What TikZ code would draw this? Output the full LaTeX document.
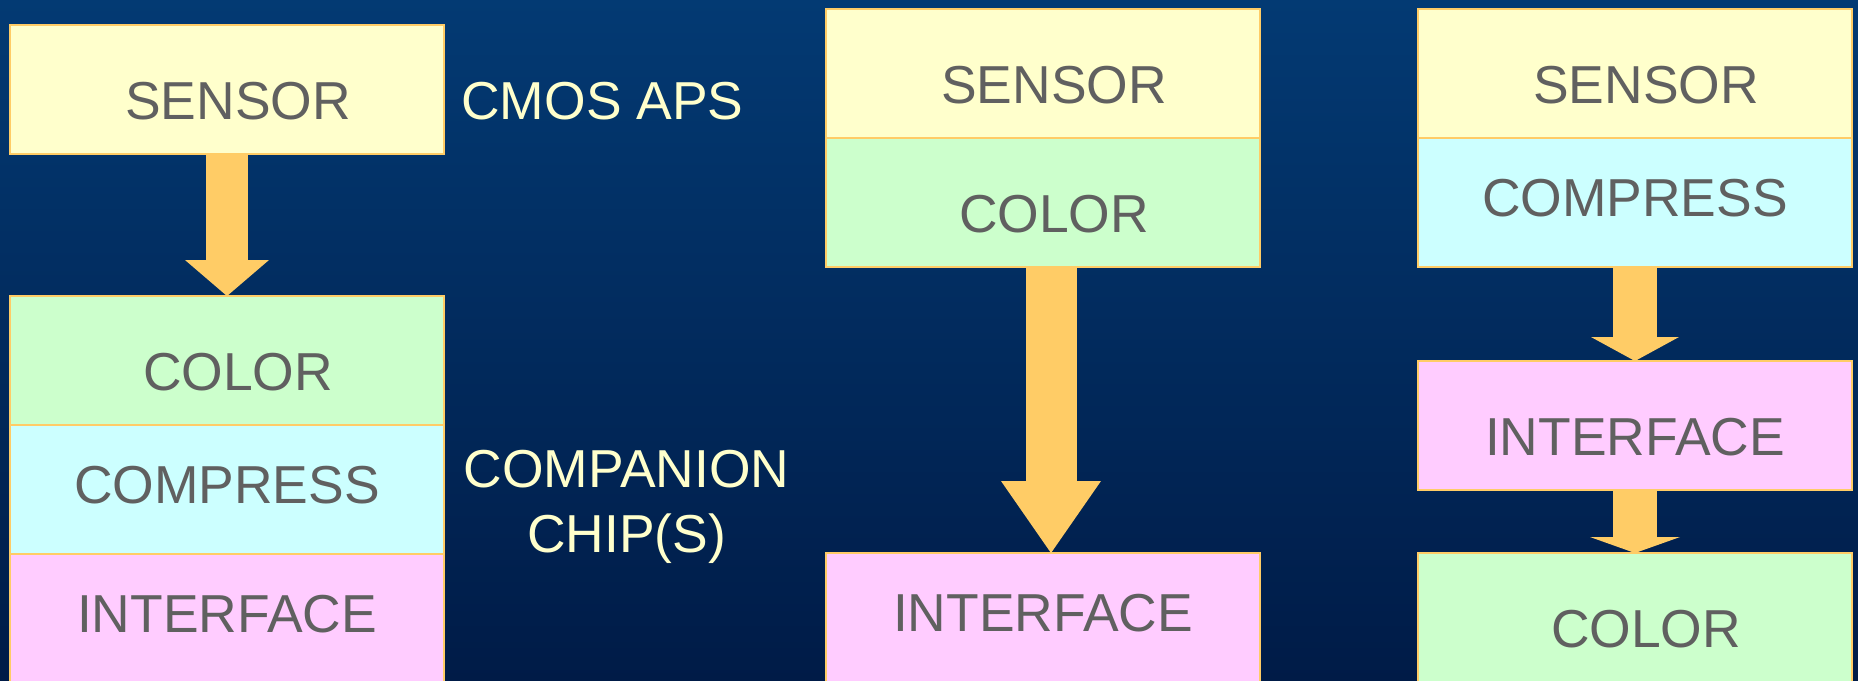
\documentclass[tikz,border=0pt]{standalone}
\usepackage{fontspec}
\setmainfont{Liberation Sans}
\usetikzlibrary{positioning, arrows.meta}

\definecolor{bgtop}{RGB}{3,58,115}
\definecolor{bgbottom}{RGB}{0,27,71}
\definecolor{rimcolor}{RGB}{255,204,102}
\definecolor{sensorfill}{RGB}{255,255,204}
\definecolor{colorfill}{RGB}{204,255,204}
\definecolor{compressfill}{RGB}{204,255,255}
\definecolor{interfacefill}{RGB}{255,204,255}
\definecolor{boxtext}{RGB}{96,96,96}
\definecolor{sidetext}{RGB}{255,255,204}

\newcommand{\nudge}{\hspace*{0.22cm}}

\tikzstyle{block} = [rectangle, minimum width=4.34cm, minimum height=1.29cm, text centered, draw=rimcolor, line width=0.6pt, outer sep=0pt, text=boxtext, font=\fontsize{15.2pt}{18.4pt}\selectfont, text height=0.59cm, text depth=0cm]
\tikzstyle{raised} = [text height=0.39cm, text depth=0.12cm]
\tikzstyle{sensorbox} = [block, fill=sensorfill]
\tikzstyle{colorbox} = [block, fill=colorfill]
\tikzstyle{compressbox} = [block, fill=compressfill, raised]
\tikzstyle{interfacebox} = [block, fill=interfacefill]
\tikzstyle{note} = [text=sidetext, font=\fontsize{15.2pt}{18.4pt}\selectfont]
\tikzstyle{pipe} = [draw=rimcolor]

\begin{document}
\begin{tikzpicture}
\useasboundingbox (0,0) rectangle (18.58,-6.80);
\fill [top color=bgtop, bottom color=bgbottom] (0,0) rectangle (18.58,-6.80);

% sensor chip + companion chip
\node (sensorL) [sensorbox, anchor=north west] at (0.10,-0.25) {\nudge SENSOR};
\node (colorL) [colorbox, below=1.42cm of sensorL] {\nudge COLOR};
\node (compressL) [compressbox, below=0cm of colorL] {COMPRESS};
\node (interfaceL) [interfacebox, below=0cm of compressL, raised] {INTERFACE};

\node (cmos) [note, right=0.05cm of sensorL, text height=0.59cm, text depth=0cm] {CMOS APS};
\node (companion) [note, align=center] at (6.265,-5.07) {COMPANION\\CHIP(S)};

% color on the sensor
\node (sensorM) [sensorbox, right=3.82cm of sensorL, yshift=0.16cm] {\nudge SENSOR};
\node (colorM) [colorbox, below=0cm of sensorM] {\nudge COLOR};
\node (interfaceM) [interfacebox, below=2.86cm of colorM, raised] {INTERFACE};

% compress on the sensor
\node (sensorR) [sensorbox, right=1.58cm of sensorM] {\nudge SENSOR};
\node (compressR) [compressbox, below=0cm of sensorR] {COMPRESS};
\node (interfaceR) [interfacebox, below=0.94cm of compressR] {INTERFACE};
\node (colorR) [colorbox, below=0.63cm of interfaceR] {\nudge COLOR};

\draw [pipe, line width=0.42cm, -{Triangle[width=0.84cm, length=0.36cm, line width=0pt]}] (sensorL) -- (colorL);
\draw [pipe, line width=0.51cm, -{Triangle[width=1.00cm, length=0.72cm, line width=0pt]}] ([xshift=0.08cm]colorM.south) -- ([xshift=0.08cm]interfaceM.north);
\draw [pipe, line width=0.44cm, -{Triangle[width=0.88cm, length=0.24cm, line width=0pt]}] (compressR) -- (interfaceR);
\draw [pipe, line width=0.44cm, -{Triangle[width=0.90cm, length=0.16cm, line width=0pt]}] (interfaceR) -- (colorR);

\end{tikzpicture}
\end{document}
